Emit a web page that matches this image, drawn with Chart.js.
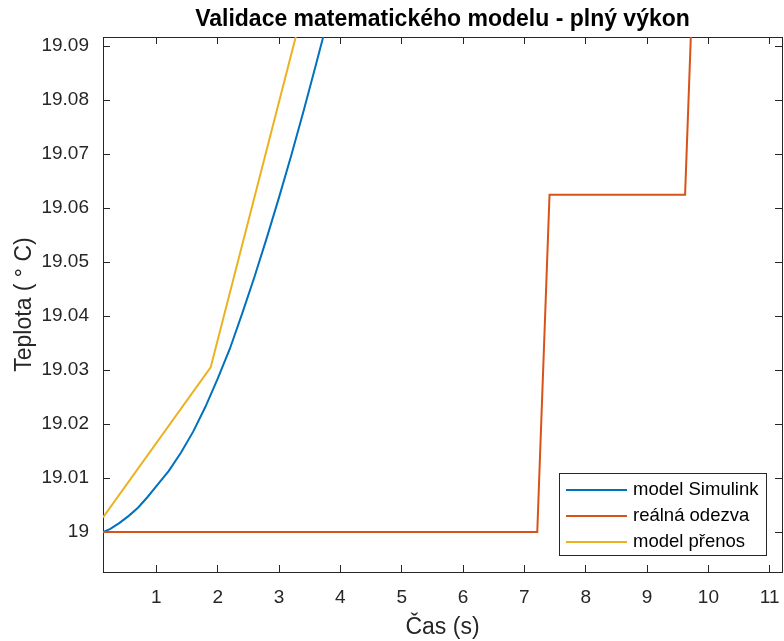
<!DOCTYPE html>
<html>
<head>
<meta charset="utf-8">
<script src="https://cdn.jsdelivr.net/npm/chart.js@4"></script>
<style>
html, body { margin: 0; padding: 0; background: #fff; }
</style>
</head>
<body>
<canvas id="chart" width="784" height="641"></canvas>
<script>
// ------------------- DATA -------------------
const seriesNames = ["model Simulink", "reálná odezva", "model přenos"];
const seriesColors = ["#0072BD", "#D95319", "#EDB120"];

const simulinkT = [0.13, 0.25, 0.4, 0.55, 0.7, 0.85, 1.0, 1.2, 1.4, 1.6, 1.8, 2.0, 2.2, 2.4, 2.6, 2.8, 3.0, 3.2, 3.4, 3.6, 3.8, 4.0];
const simulinkY = [19.0, 19.0006, 19.0017, 19.003, 19.0045, 19.0064, 19.0085, 19.0113, 19.0147, 19.0186, 19.0232, 19.0284,
                   19.034, 19.0405, 19.0473, 19.0545, 19.062, 19.0698, 19.078, 19.0865, 19.0952, 19.104];

const realT = [0.13, 7.21, 7.41, 9.62, 9.82, 11.2];
const realY = [19.0, 19.0, 19.0625, 19.0625, 19.125, 19.125];

const prenosT = [0.13, 1.885, 3.8];
const prenosY = [19.0027, 19.0305, 19.115];

const xTicks = [1, 2, 3, 4, 5, 6, 7, 8, 9, 10, 11];
const yTicks = [19.0, 19.01, 19.02, 19.03, 19.04, 19.05, 19.06, 19.07, 19.08, 19.09];
const yTickLabels = ["19", "19.01", "19.02", "19.03", "19.04", "19.05", "19.06", "19.07", "19.08", "19.09"];

const xMin = 0.13, xMax = 11.2;
const yMin = 18.9926, yMax = 19.0917;

// ------------------- HELPERS -------------------
const axisColor = "#262626";
const fontFamily = "'Liberation Sans', Arial, Helvetica, sans-serif";

function toPoints(ts, ys) {
    return ts.map((t, i) => ({ x: t, y: ys[i] }));
}

function noEdgePadding(scale) {
    scale.paddingLeft = 0;
    scale.paddingRight = 0;
    scale.paddingTop = 0;
    scale.paddingBottom = 0;
}

function boxAxis(position, ticks, min, max) {
    return {
        type: "linear",
        position: position,
        min: min,
        max: max,
        afterBuildTicks: scale => { scale.ticks = ticks.map(v => ({ value: v })); },
        afterFit: scale => {
            if (position === "top") scale.height = 0;
            else scale.width = 0;
            noEdgePadding(scale);
        },
        ticks: { display: false },
        grid: { drawOnChartArea: false, drawTicks: true, tickLength: -7, color: axisColor, lineWidth: 1 },
        border: { display: true, color: axisColor, width: 1 }
    };
}

// legend drawn inside the plot, bottom right
const boxLegend = {
    id: "boxLegend",
    afterDatasetsDraw(chart) {
        const ctx = chart.ctx;
        const x = 559.5, y = 473.5, w = 207, h = 82;
        const rows = [490, 516, 542];
        ctx.save();
        ctx.fillStyle = "#fff";
        ctx.fillRect(x, y, w, h);
        ctx.strokeStyle = axisColor;
        ctx.lineWidth = 1;
        ctx.strokeRect(x, y, w, h);
        ctx.font = "18.5px " + fontFamily;
        ctx.textBaseline = "middle";
        chart.data.datasets.forEach((ds, i) => {
            ctx.strokeStyle = ds.borderColor;
            ctx.lineWidth = 2;
            ctx.beginPath();
            ctx.moveTo(566, rows[i]);
            ctx.lineTo(627, rows[i]);
            ctx.stroke();
            ctx.fillStyle = "#000";
            ctx.fillText(ds.label, 633, rows[i]);
        });
        ctx.restore();
    }
};

// ------------------- CHART -------------------
const ctx = document.getElementById("chart");

new Chart(ctx, {
    type: "line",
    data: {
        datasets: [
            { label: seriesNames[0], data: toPoints(simulinkT, simulinkY), borderColor: seriesColors[0], order: 3 },
            { label: seriesNames[1], data: toPoints(realT, realY), borderColor: seriesColors[1], order: 2 },
            { label: seriesNames[2], data: toPoints(prenosT, prenosY), borderColor: seriesColors[2], order: 1 }
        ]
    },
    options: {
        responsive: false,
        animation: false,
        devicePixelRatio: 1,
        layout: { padding: { top: 0, right: 2, bottom: 0, left: 0 } },
        elements: {
            line: { borderWidth: 2, tension: 0, fill: false },
            point: { radius: 0, hoverRadius: 0 }
        },
        plugins: {
            legend: { display: false },
            tooltip: { enabled: false },
            title: {
                display: true,
                text: "Validace matematického modelu - plný výkon",
                fullSize: false,
                color: "#000",
                font: { family: fontFamily, size: 23, weight: "bold", lineHeight: 1.2 },
                padding: { top: 5.5, bottom: 3.9 }
            }
        },
        scales: {
            x: {
                type: "linear",
                position: "bottom",
                min: xMin,
                max: xMax,
                afterBuildTicks: scale => { scale.ticks = xTicks.map(v => ({ value: v })); },
                afterFit: scale => { scale.height = 69; noEdgePadding(scale); },
                ticks: {
                    color: axisColor,
                    padding: 21.5,
                    maxRotation: 0,
                    font: { family: fontFamily, size: 19 },
                    callback: v => String(v)
                },
                grid: { drawOnChartArea: false, drawTicks: true, tickLength: -7, color: axisColor, lineWidth: 1 },
                border: { display: true, color: axisColor, width: 1 },
                title: {
                    display: true,
                    text: "Čas (s)",
                    color: axisColor,
                    font: { family: fontFamily, size: 23, lineHeight: 1.2 },
                    padding: { top: 0, bottom: 0 }
                }
            },
            y: {
                type: "linear",
                position: "left",
                min: yMin,
                max: yMax,
                afterBuildTicks: scale => { scale.ticks = yTicks.map(v => ({ value: v })); },
                afterFit: scale => { scale.width = 103; noEdgePadding(scale); },
                ticks: {
                    color: axisColor,
                    padding: 21,
                    font: { family: fontFamily, size: 19 },
                    callback: (v, i) => yTickLabels[i]
                },
                grid: { drawOnChartArea: false, drawTicks: true, tickLength: -7, color: axisColor, lineWidth: 1 },
                border: { display: true, color: axisColor, width: 1 },
                title: {
                    display: true,
                    text: "Teplota ( ° C)",
                    color: axisColor,
                    font: { family: fontFamily, size: 23, lineHeight: 1.2 },
                    padding: { top: 10.5, bottom: 0 }
                }
            },
            x2: boxAxis("top", xTicks, xMin, xMax),
            y2: boxAxis("right", yTicks, yMin, yMax)
        }
    },
    plugins: [boxLegend]
});
</script>
</body>
</html>
